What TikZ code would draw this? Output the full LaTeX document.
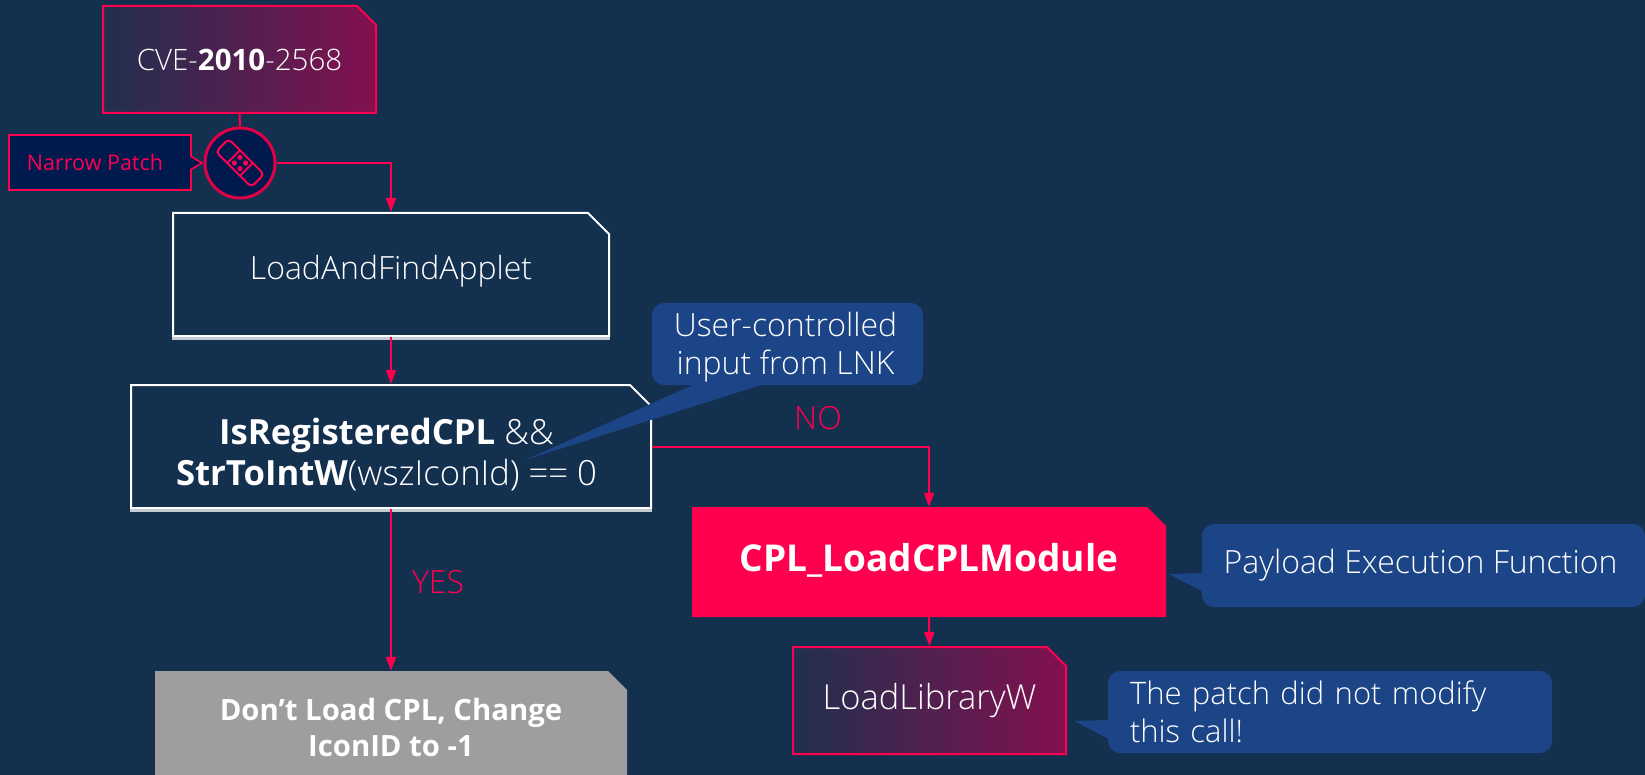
\documentclass[tikz,border=0pt]{standalone}
\usepackage{fontspec}
\setmainfont{Open Sans}[UprightFont=* Light,BoldFont=* Bold]
\newfontfamily\regfont{Open Sans}
\usetikzlibrary{arrows.meta,shapes.misc,shapes.callouts}

\definecolor{slidebg}{HTML}{14304F}
\definecolor{crimson}{HTML}{FF004F}
\definecolor{navybox}{HTML}{011A4E}
\definecolor{noteblue}{HTML}{1C4587}
\definecolor{gradleft}{HTML}{20304F}
\definecolor{gradright}{HTML}{83104F}
\definecolor{greybox}{HTML}{9E9E9E}

\newcommand{\textsized}[1]{\fontsize{#1}{38}\selectfont}

\tikzset{
  cutbox/.style={chamfered rectangle, chamfered rectangle corners=north east,
    chamfered rectangle xsep=#1, chamfered rectangle ysep=#1,
    inner sep=0pt, align=center, text=white},
  cutbox/.default=9.5pt,
  gradbox/.style={cutbox, draw=crimson, line width=2pt, left color=gradleft, right color=gradright},
  whitebox/.style={cutbox=10.5pt, draw=white, line width=2pt},
  underline/.style={draw=white!75!slidebg, line width=2.5pt},
  notebox/.style={rectangle, rounded corners=12pt, fill=noteblue, text=white, inner sep=0pt},
  notetail/.style={fill=noteblue, draw=none},
  wire/.style={->, color=crimson, line width=2pt},
  wirelabel/.style={text=crimson, font=\textsized{32}, inner sep=0pt},
}

\begin{document}
\begin{tikzpicture}[x=1pt, y=-1pt, >={Stealth[length=14pt,width=10pt,inset=0pt]}]
  \path[clip] (0,0) rectangle (1645,775);
  \fill[slidebg] (0,0) rectangle (1645,775);

  % left column
  \node[gradbox, minimum width=273pt, minimum height=107pt, font=\textsized{29.5}] (cve) at (239.5,59.5) {CVE-\textbf{2010}-2568};
  \node[circle, draw=crimson!88!black, fill=navybox, line width=3pt, minimum size=70pt, inner sep=0pt] (patch) at (240,163) {};
  \node[rectangle callout, callout absolute pointer={(202,163)}, callout pointer width=13pt,
        draw=crimson, fill=navybox, line width=1.6pt, minimum width=182pt, minimum height=55pt,
        inner sep=0pt, text=crimson, font=\regfont\fontsize{21.5}{24}\selectfont] (narrow) at (100,162.5) {\hspace{-10pt}Narrow Patch};
  \node[whitebox, minimum width=436pt, minimum height=123pt, font=\textsized{32}] (applet) at (391,274.5) {\raisebox{14pt}{LoadAndFindApplet}};
  \node[whitebox, minimum width=520pt, minimum height=123pt, font=\fontsize{34.7}{41}\selectfont] (check) at (391,446.5)
    {\rule{0pt}{42pt}\hspace*{-9pt}\textbf{IsRegisteredCPL} \&\&\\ \hspace*{-9pt}\textbf{StrToIntW}(wszIconId) == 0};
  \node[cutbox, fill=greybox, minimum width=472pt, minimum height=114pt, font=\bfseries\fontsize{29.3}{36}\selectfont] (noload) at (391,728)
    {Don’t Load CPL, Change\\ IconID to -1};
  \path[underline] ([yshift=-1.5pt]applet.south west) edge ([yshift=-1.5pt]applet.south east);
  \path[underline] ([yshift=-1.5pt]check.south west) edge ([yshift=-1.5pt]check.south east);

  % right column
  \node[cutbox, fill=crimson, minimum width=474pt, minimum height=110pt, font=\bfseries\textsized{37}] (module) at (929,562)
    {\raisebox{9pt}{CPL\_LoadCPLModule}};
  \node[gradbox, minimum width=273pt, minimum height=107pt, font=\textsized{34.5}] (library) at (929.5,700.5) {\raisebox{9pt}{LoadLibraryW}};

  % notes
  \node[notebox, minimum width=271pt, minimum height=82pt, align=center, font=\textsized{32}] (input) at (787.5,344) {\rule{0pt}{30pt}\hspace*{-4pt}User-controlled\\ \hspace*{-4pt}input from LNK};
  \node[notebox, minimum width=443pt, minimum height=83pt, font=\textsized{32}] (payload) at (1423.5,565.5) {\hspace*{-6pt}\raisebox{-3pt}{Payload Execution Function}};
  \node[notebox, minimum width=444pt, minimum height=82pt, align=left, text width=400pt, font=\textsized{31}] (call) at (1330,712) {The patch did not modify\\ this call!};
  \fill[notetail] (695,384) -- (764,384) -- (525,460) -- cycle;
  \fill[notetail] (1203,573) -- (1203,592) -- (1169,574) -- cycle;
  \fill[notetail] (1109,720) -- (1109,739) -- (1074,721) -- cycle;

  % bandage
  \begin{scope}[shift={(patch.center)}, rotate=-45, crimson, line width=2pt]
    \draw[rounded corners=4pt] (-25,-9) rectangle (25,9);
    \draw (-9,-9) -- (-9,9) (9,-9) -- (9,9);
    \foreach \dotx in {-4,4}
      \foreach \doty in {-4,4}
        \fill (\dotx,\doty) circle (2.6pt);
  \end{scope}

  % connectors
  \draw[crimson, line width=2pt] (cve.south) -- (patch.north);
  \draw[wire] (patch.east) -| (applet.north);
  \path[wire]
    (applet.south) edge (check.north)
    (check.south) edge node[wirelabel, pos=0.45, right=20pt] {YES} (noload.north)
    (module.south) edge (library.north);
  \draw[wire] (check.east) -| (module.north);
  \node[wirelabel] (nolabel) at (818,418) {NO};
\end{tikzpicture}
\end{document}
